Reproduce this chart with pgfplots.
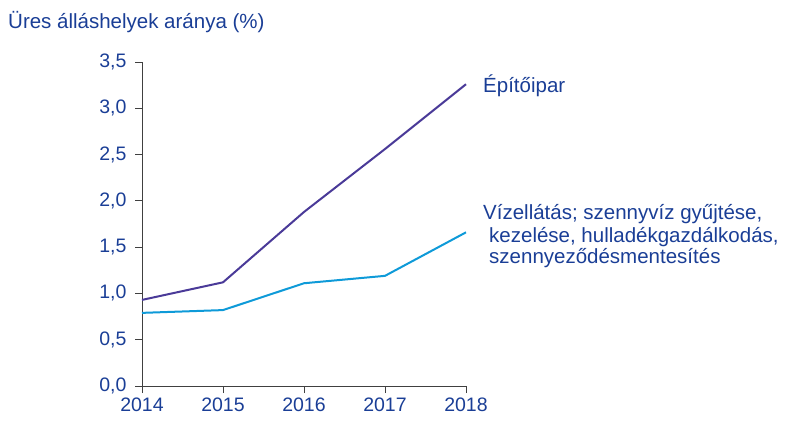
\documentclass[border=0pt]{standalone}
\usepackage{fontspec}
\setmainfont{Liberation Sans}
\usepackage{pgfplots}
\pgfplotsset{compat=1.18}
\definecolor{txt}{HTML}{1A3E96}
\definecolor{purp}{HTML}{4A3A98}
\definecolor{lblue}{HTML}{0E9AD8}
\definecolor{axc}{HTML}{404040}
\begin{document}
\begin{tikzpicture}[x=1pt,y=1pt]
\path[use as bounding box] (0,0) rectangle (787,424);
\begin{axis}[at={(142pt,38pt)}, anchor=south west, scale only axis,
  width=324pt, height=324pt,
  xmin=2014, xmax=2018, ymin=0, ymax=3.5,
  axis lines*=left,
  axis line style={axc, line width=1pt},
  every tick/.style={axc, line width=1pt},
  tick align=outside, major tick length=7pt,
  xtick={2014,2015,2016,2017,2018},
  ytick={0,0.5,1,1.5,2,2.5,3,3.5},
  x tick label style={/pgf/number format/1000 sep={}, yshift=-1pt},
  y tick label style={/pgf/number format/fixed, /pgf/number format/fixed zerofill, /pgf/number format/precision=1, /pgf/number format/use comma, xshift=-5pt},
  /pgf/number format/assume math mode=true,
  tick label style={font=\fontsize{19.5}{22}\selectfont, text=txt},
  clip=false,
]
\addplot[purp, line width=2pt] coordinates {(2014,0.93) (2015,1.12) (2016,1.88) (2017,2.56) (2018,3.26)};
\addplot[lblue, line width=2pt] coordinates {(2014,0.79) (2015,0.82) (2016,1.11) (2017,1.19) (2018,1.66)};
\end{axis}
\begin{scope}[every node/.style={inner sep=0pt, text=txt, font=\fontsize{20.5}{24}\selectfont}]
\node[anchor=west] at (8,402) {Üres álláshelyek aránya (\%)};
\node[anchor=west] at (483,338) {Építőipar};
\node[anchor=west] at (483,210) {Vízellátás; szennyvíz gyűjtése,};
\node[anchor=west] at (489,187) {kezelése, hulladékgazdálkodás,};
\node[anchor=west] at (489,166) {szennyeződésmentesítés};
\end{scope}
\end{tikzpicture}
\end{document}
